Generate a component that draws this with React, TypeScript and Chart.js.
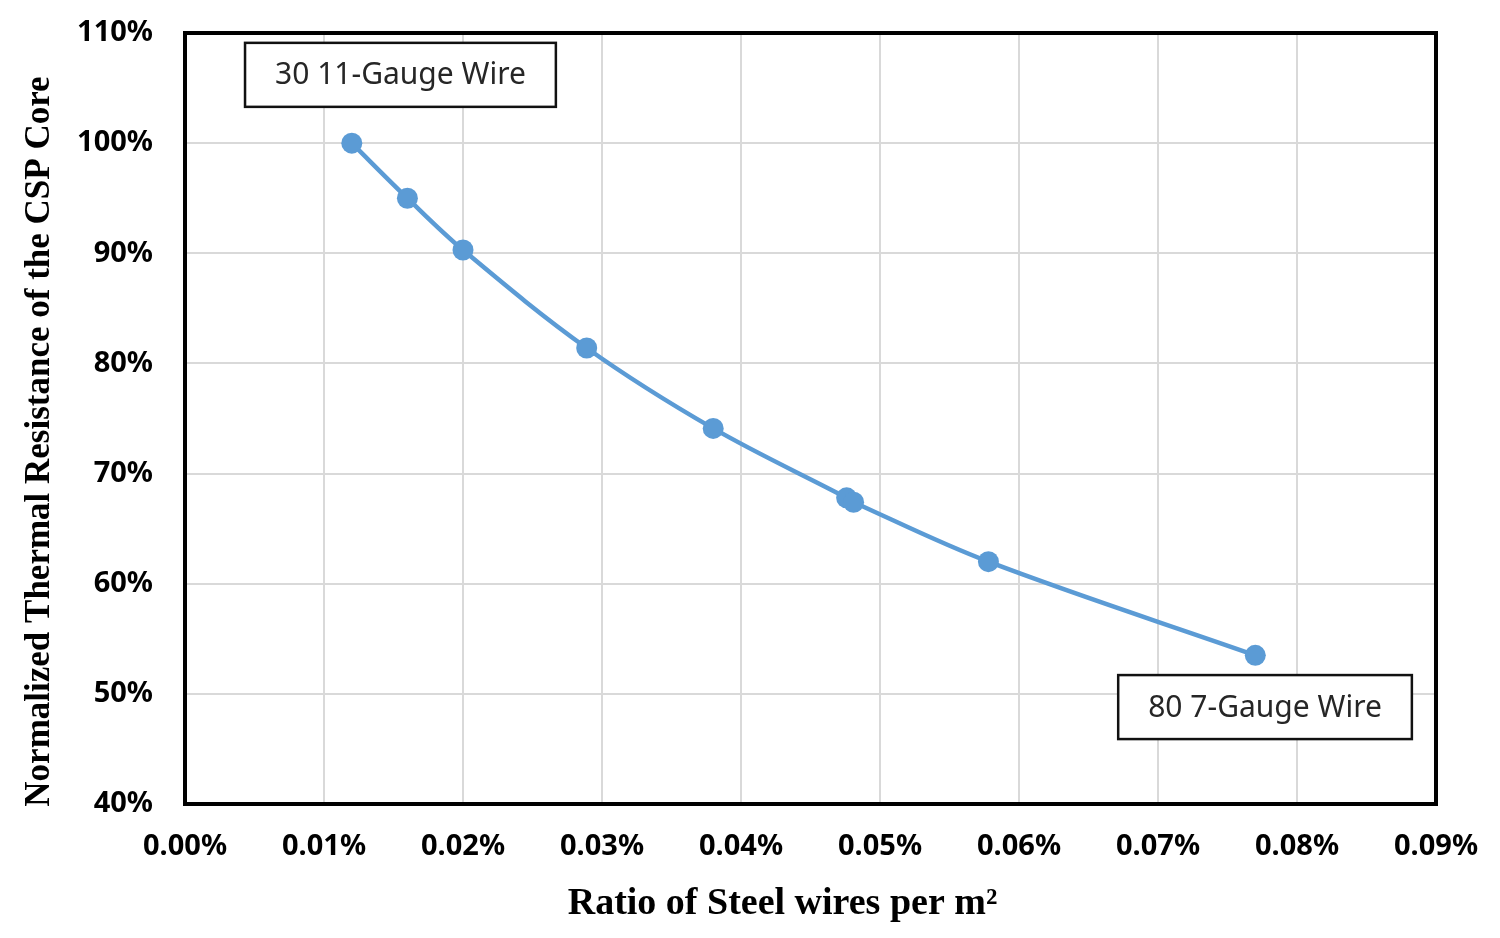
import React, { useEffect, useRef } from "react";
import { Chart, registerables } from "chart.js";

Chart.register(...registerables);

// Ratio of steel wires per m² (in %)
const steelRatio = [0.012, 0.016, 0.02, 0.0289, 0.038, 0.0476, 0.0481, 0.0578, 0.077];
// Normalized thermal resistance of the CSP core (in %)
const thermalResistance = [100, 95, 90.3, 81.4, 74.1, 67.8, 67.4, 62, 53.5];

const xTickMin = 0;
const xTickMax = 0.09;
const xTickStep = 0.01;
const yTickMin = 40;
const yTickMax = 110;
const yTickStep = 10;

const xTitle = "Ratio of Steel wires per m\u00B2";
const yTitle = "Normalized Thermal Resistance of the CSP Core";

const annotationLabels = ["30 11-Gauge Wire", "80 7-Gauge Wire"];
const annotationX = [0.0155, 0.0777];
const annotationY = [106.2, 48.8];

const overlayPlugin = {
  id: "overlay",
  afterDatasetsDraw(chart: any) {
    const { ctx, chartArea, scales } = chart;
    const xs = scales.x;
    const ys = scales.y;
    ctx.save();
    ctx.font = '30px "Noto Sans"';
    annotationLabels.forEach((t, i) => {
      const cx = xs.getPixelForValue(annotationX[i]);
      const cy = ys.getPixelForValue(annotationY[i]);
      const w = ctx.measureText(t).width + 60;
      const h = 64;
      ctx.fillStyle = "#ffffff";
      ctx.fillRect(cx - w / 2, cy - h / 2, w, h);
      ctx.lineWidth = 2.5;
      ctx.strokeStyle = "#111111";
      ctx.strokeRect(cx - w / 2, cy - h / 2, w, h);
      ctx.fillStyle = "#262626";
      ctx.textAlign = "center";
      ctx.textBaseline = "middle";
      ctx.fillText(t, cx, cy + 1);
    });
    ctx.lineWidth = 4;
    ctx.strokeStyle = "#000000";
    ctx.strokeRect(chartArea.left, chartArea.top, chartArea.right - chartArea.left, chartArea.bottom - chartArea.top);

    // axis titles
    ctx.fillStyle = "#000000";
    ctx.textAlign = "center";
    ctx.textBaseline = "middle";
    ctx.font = 'bold 38px "Liberation Serif"';
    const midX = (chartArea.left + chartArea.right) / 2;
    ctx.fillText(xTitle, midX - 28, 904);
    ctx.font = 'bold 35px "Liberation Serif"';
    const midY = (chartArea.top + chartArea.bottom) / 2;
    ctx.translate(40, midY + 23);
    ctx.rotate(-Math.PI / 2);
    ctx.fillText(yTitle, 0, 0);
    ctx.restore();
  },
};

export default function App() {
  const canvasRef = useRef<HTMLCanvasElement | null>(null);

  useEffect(() => {
    document.body.style.margin = "0";
    const canvas = canvasRef.current;
    if (!canvas) return;
    const points = steelRatio.map((x, i) => ({ x, y: thermalResistance[i] }));
    const chart = new Chart(canvas, {
      type: "line",
      data: {
        datasets: [
          {
            data: points,
            borderColor: "#5B9BD5",
            backgroundColor: "#5B9BD5",
            borderWidth: 4.5,
            pointRadius: 10.5,
            pointHoverRadius: 10.5,
            pointBorderWidth: 0,
            tension: 0.35,
            fill: false,
          },
        ],
      },
      options: {
        animation: false,
        responsive: true,
        maintainAspectRatio: false,
        layout: { padding: { left: 0, top: 33, right: 64, bottom: 0 } },
        plugins: {
          legend: { display: false },
          tooltip: { enabled: false },
        },
        scales: {
          x: {
            type: "linear",
            min: xTickMin,
            max: xTickMax,
            afterFit: (s: any) => {
              s.height = 134;
            },
            ticks: {
              stepSize: xTickStep,
              padding: 0,
              color: "#000000",
              font: { family: "Noto Sans", size: 29, weight: "bold" },
              callback: (v: any) => Number(v).toFixed(2) + "%",
            },
            grid: {
              color: "#d9d9d9",
              lineWidth: 2,
              drawTicks: true,
              tickLength: 25,
              tickColor: "rgba(0,0,0,0)",
            },
            border: { display: false },
            title: { display: false, text: xTitle },
          },
          y: {
            type: "linear",
            min: yTickMin,
            max: yTickMax,
            afterFit: (s: any) => {
              s.width = 185;
            },
            ticks: {
              stepSize: yTickStep,
              padding: 0,
              color: "#000000",
              font: { family: "Noto Sans", size: 29, weight: "bold" },
              callback: (v: any) => Math.round(Number(v)) + "%",
            },
            grid: {
              color: "#d9d9d9",
              lineWidth: 2,
              drawTicks: true,
              tickLength: 32,
              tickColor: "rgba(0,0,0,0)",
            },
            border: { display: false },
            title: { display: false, text: yTitle },
          },
        },
      },
      plugins: [overlayPlugin],
    });
    return () => chart.destroy();
  }, []);

  return (
    <div style={{ position: "fixed", left: 0, top: 0, width: 1500, height: 938, background: "#ffffff" }}>
      <canvas ref={canvasRef} />
    </div>
  );
}
